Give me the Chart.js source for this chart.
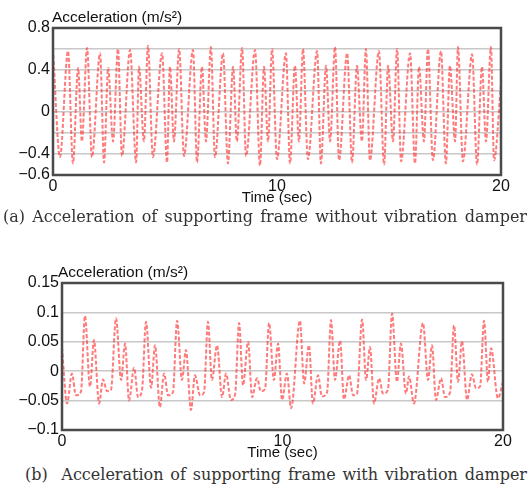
<!DOCTYPE html>
<html>
<head>
<meta charset="utf-8">
<script src="https://cdn.jsdelivr.net/npm/chart.js@4/dist/chart.umd.min.js"></script>
<style>
  body { margin: 0; background: #fff; width: 530px; height: 490px; position: relative; overflow: hidden; }
  .box { position: absolute; left: 0; width: 530px; }
  .cap { position: absolute; font-family: "DejaVu Serif", serif; font-size: 16px; color: #333;
         text-align: justify; text-align-last: justify; white-space: nowrap; }
</style>
</head>
<body>
<div class="box" style="top:0;height:210px"><canvas id="chartA"></canvas></div>
<div class="box" style="top:240px;height:225px"><canvas id="chartB"></canvas></div>
<div class="cap" style="left:3px;top:207px;width:524px">(a) Acceleration of supporting frame without vibration damper</div>
<div class="cap" style="left:25px;top:465px;width:502px">(b)&nbsp; Acceleration of supporting frame with vibration damper</div>
<script>
// (a) without damper: extrema
const timeA = [0.00, 0.31, 0.67, 0.89, 1.12, 1.29, 1.52, 1.74, 2.10, 2.28, 2.46, 2.68, 2.90, 3.08, 3.44, 3.71,
  3.84, 4.06, 4.24, 4.46, 4.87, 5.09, 5.22, 5.40, 5.63, 5.85, 6.25, 6.43, 6.65, 6.83, 7.05, 7.23,
  7.59, 7.81, 8.04, 8.21, 8.44, 8.62, 9.02, 9.24, 9.42, 9.60, 9.78, 10.00, 10.40, 10.58, 10.80, 10.98,
  11.16, 11.38, 11.79, 11.96, 12.19, 12.37, 12.59, 12.77, 13.13, 13.35, 13.57, 13.79, 13.97, 14.15,
  14.55, 14.78, 14.96, 15.18, 15.36, 15.54, 15.94, 16.16, 16.34, 16.56, 16.74, 16.96, 17.32, 17.54,
  17.72, 17.95, 18.08, 18.30, 18.71, 18.93, 19.15, 19.33, 19.55, 19.69, 20.00];
const accelA = [0.60, -0.43, 0.58, -0.49, 0.42, -0.28, 0.61, -0.43, 0.56, -0.48, 0.42, -0.28, 0.60, -0.42, 0.59, -0.48,
  0.43, -0.28, 0.63, -0.43, 0.56, -0.48, 0.43, -0.28, 0.60, -0.42, 0.59, -0.48, 0.43, -0.28, 0.62, -0.43,
  0.56, -0.49, 0.43, -0.28, 0.61, -0.42, 0.59, -0.51, 0.43, -0.28, 0.60, -0.45, 0.56, -0.49, 0.44, -0.28,
  0.60, -0.45, 0.58, -0.49, 0.44, -0.28, 0.62, -0.46, 0.56, -0.48, 0.44, -0.28, 0.60, -0.46,
  0.58, -0.50, 0.44, -0.28, 0.60, -0.47, 0.56, -0.49, 0.43, -0.28, 0.60, -0.46, 0.58, -0.49,
  0.44, -0.28, 0.62, -0.47, 0.55, -0.50, 0.43, -0.28, 0.62, -0.46, 0.27];

// (b) with damper
const timeB = [0.00, 0.23, 0.45, 0.63, 0.86, 1.04, 1.27, 1.45, 1.68, 1.86, 2.04, 2.22, 2.45, 2.68, 2.86, 3.04,
  3.27, 3.45, 3.63, 3.81, 4.04, 4.22, 4.44, 4.63, 4.81, 5.03, 5.22, 5.44, 5.62, 5.85, 6.03, 6.26,
  6.44, 6.62, 6.80, 7.03, 7.26, 7.44, 7.66, 7.85, 8.03, 8.21, 8.44, 8.62, 8.84, 9.02, 9.21, 9.39,
  9.61, 9.80, 9.98, 10.20, 10.39, 10.79, 10.98, 11.20, 11.38, 11.61, 11.79, 12.02, 12.20, 12.38,
  12.61, 12.79, 13.02, 13.20, 13.38, 13.61, 13.79, 13.97, 14.15, 14.38, 14.56, 14.78, 14.97, 15.19,
  15.37, 15.60, 15.74, 15.96, 16.37, 16.60, 16.78, 16.96, 17.19, 17.37, 17.60, 17.78, 17.96, 18.14,
  18.37, 18.59, 18.78, 18.96, 19.14, 19.32, 19.46, 19.77, 20.00];
const accelB = [0.040, -0.055, -0.004, -0.041, -0.035, 0.094, -0.026, 0.053, -0.055, -0.014, -0.034, -0.032, 0.090, -0.015, 0.047, -0.050,
  0.006, -0.044, -0.032, 0.084, -0.028, 0.044, -0.061, -0.004, -0.041, -0.036, 0.086, -0.015, 0.036, -0.066, -0.007, -0.041,
  -0.036, 0.084, -0.015, 0.044, -0.044, -0.004, -0.049, -0.040, 0.082, -0.024, 0.050, -0.044, -0.012, -0.034, -0.030, 0.082,
  -0.015, 0.047, -0.049, -0.004, -0.063, 0.086, -0.021, 0.044, -0.055, -0.007, -0.043, -0.036, 0.087, -0.015,
  0.052, -0.048, -0.007, -0.041, -0.038, 0.088, -0.015, 0.041, -0.055, -0.012, -0.038, -0.032, 0.098, -0.018,
  0.047, -0.038, -0.009, -0.055, 0.082, -0.015, 0.044, -0.049, -0.012, -0.044, -0.036, 0.078, -0.018, 0.051,
  -0.049, -0.005, -0.029, -0.026, 0.086, -0.018, 0.039, -0.046, -0.018];

const labelsA = [0.8, 0.4, 0, -0.4, -0.6];
const labelsB = [0.15, 0.1, 0.05, 0, -0.05, -0.1];
const xLabels = [0, 10, 20];

const sans = '"Liberation Sans", Arial, sans-serif';

function fmt(v) {
  const s = String(+v.toFixed(3));
  return v < 0 ? '\u2212' + s.slice(1) : s;
}

// y-axis caption written above the plot, flush with its left edge
const yCaption = {
  id: 'yCaption',
  afterDraw(chart) {
    const { ctx, chartArea } = chart;
    const o = chart.options.plugins.yCaption;
    ctx.save();
    ctx.font = '15.5px ' + sans;
    ctx.fillStyle = '#111';
    ctx.textBaseline = 'alphabetic';
    ctx.fillText('Acceleration (m/s\u00B2)', chartArea.left + o.dx, chartArea.top - o.dy);
    ctx.restore();
  }
};

function makeChart(id, times, vals, opt) {
  const pts = times.map((t, i) => ({ x: t, y: vals[i] }));
  return new Chart(document.getElementById(id), {
    type: 'line',
    data: {
      datasets: [{
        data: pts,
        borderColor: 'rgba(255, 60, 60, 0.68)',
        borderWidth: 2,
        borderDash: [4, 2],
        pointRadius: 0,
        cubicInterpolationMode: 'monotone',
        fill: false
      }]
    },
    options: {
      responsive: true,
      maintainAspectRatio: false,
      animation: false,
      layout: { padding: { left: 0, right: opt.padRight, top: opt.padTop, bottom: 0 } },
      scales: {
        x: {
          type: 'linear', min: 0, max: 20,
          afterBuildTicks: s => { s.ticks = xLabels.map(v => ({ value: v })); },
          afterFit: s => { s.height = 35; },
          ticks: { color: '#111', font: { family: sans, size: 16 }, padding: 2, maxRotation: 0, autoSkip: false },
          grid: { display: false, drawTicks: false },
          border: { display: false },
          title: { display: true, text: 'Time (sec)', color: '#111', font: { family: sans, size: 15 }, padding: { top: 0, bottom: 3 } }
        },
        y: {
          min: opt.min, max: opt.max,
          afterBuildTicks: s => { s.ticks = opt.grid.map(v => ({ value: v })); },
          afterFit: s => { s.width = opt.left; },
          ticks: {
            color: '#111', font: { family: sans, size: 16 }, padding: 3, autoSkip: false,
            callback: v => opt.labels.some(l => Math.abs(l - v) < 1e-6) ? fmt(v) : ''
          },
          grid: {
            drawTicks: false,
            color: ctx => (ctx.tick && (Math.abs(ctx.tick.value - opt.min) < 1e-6 || Math.abs(ctx.tick.value - opt.max) < 1e-6)) ? 'rgba(0,0,0,0)' : '#c8c8c8',
            lineWidth: 1.5
          },
          border: { display: false }
        }
      },
      plugins: { legend: { display: false }, tooltip: { enabled: false }, yCaption: { dx: opt.capDx, dy: 6 } }
    },
    plugins: [yCaption, {
      id: 'frame',
      afterDatasetsDraw(chart) {
        const { ctx, chartArea: a } = chart;
        ctx.save();
        ctx.strokeStyle = '#4a4a4a';
        ctx.lineWidth = 2.5;
        ctx.strokeRect(a.left, a.top, a.right - a.left, a.bottom - a.top);
        ctx.restore();
      }
    }]
  });
}

makeChart('chartA', timeA, accelA, {
  min: -0.6, max: 0.8, grid: [-0.6, -0.4, -0.2, 0, 0.2, 0.4, 0.6, 0.8], labels: labelsA,
  left: 53, padRight: 29, padTop: 28, capDx: -1
});
makeChart('chartB', timeB, accelB, {
  min: -0.1, max: 0.15, grid: [-0.1, -0.05, 0, 0.05, 0.1, 0.15], labels: labelsB,
  left: 62, padRight: 27, padTop: 43, capDx: -4
});
</script>
</body>
</html>
